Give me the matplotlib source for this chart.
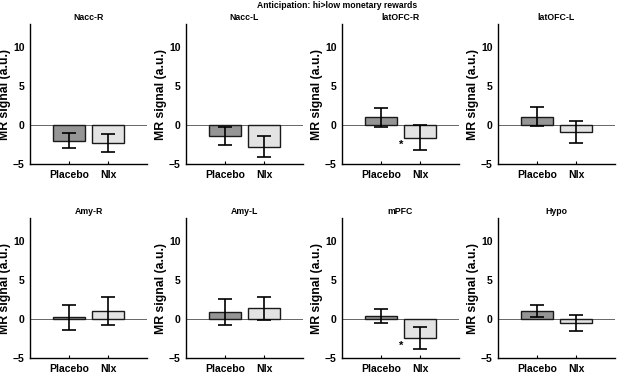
import numpy as np
import matplotlib.pyplot as plt

plt.rcParams['font.family'] = ['Liberation Sans', 'DejaVu Sans']

regions = ['Nacc-R', 'Nacc-L', 'latOFC-R', 'latOFC-L',
           'Amy-R', 'Amy-L', 'mPFC', 'Hypo']
groups = ['Placebo', 'Nlx']

# mean signal per region (placebo, nlx)
placebo_mean = [-2.0, -1.4, 1.0, 1.1, 0.25, 0.95, 0.4, 1.05]
nlx_mean = [-2.3, -2.8, -1.6, -0.85, 1.1, 1.4, -2.4, -0.5]
# error bar half-length
placebo_err = [0.95, 1.1, 1.2, 1.25, 1.6, 1.65, 0.9, 0.8]
nlx_err = [1.12, 1.35, 1.6, 1.4, 1.8, 1.5, 1.45, 1.0]
# significance marker next to Nlx bar
signif = [False, False, True, False, False, False, True, False]

fig = plt.figure(figsize=(6.17, 3.73), dpi=100)
W, H = 617, 373

lefts = [30, 186, 342, 498]
tops = [24, 218]
ax_w, ax_h = 117, 140

for i, name in enumerate(regions):
    row, col = divmod(i, 4)
    ax = fig.add_axes([lefts[col] / W, 1 - (tops[row] + ax_h) / H, ax_w / W, ax_h / H])
    x = np.array([1, 2])
    means = [placebo_mean[i], nlx_mean[i]]
    errs = [placebo_err[i], nlx_err[i]]
    ax.axhline(0, color='#666666', lw=0.7, zorder=1)
    ax.bar(x, means, width=0.8, color=['#959595', '#e3e3e3'],
           edgecolor='#1a1a1a', linewidth=1.0, zorder=2)
    ax.errorbar(x, means, yerr=errs, fmt='none', ecolor='black',
                elinewidth=1.2, capsize=5, capthick=1.2, zorder=3)
    if signif[i]:
        ax.text(1.52, means[1] - 0.35, '*', ha='center', va='top',
                fontsize=8, fontweight='bold')
    ax.set_xlim(0, 3)
    ax.set_ylim(-5, 13)
    ax.set_yticks([-5, 0, 5, 10])
    ax.set_xticks(x)
    ax.set_xticklabels(groups)
    ax.spines['top'].set_visible(False)
    ax.spines['right'].set_visible(False)
    ax.spines['left'].set_linewidth(1.0)
    ax.spines['bottom'].set_linewidth(1.0)
    ax.tick_params(axis='x', direction='in', length=2.5, width=0.8,
                   labelsize=7.5, pad=4)
    ax.tick_params(axis='y', direction='in', length=0, labelsize=7.5, pad=4)
    for lbl in ax.get_xticklabels() + ax.get_yticklabels():
        lbl.set_fontweight('bold')
    ax.set_ylabel('MR signal (a.u.)', fontsize=8.8, fontweight='bold', labelpad=1)
    ax.set_title(name, fontsize=6.3, fontweight='bold', pad=3)

fig.text(337 / W, 1 - 5 / H, 'Anticipation: hi>low monetary rewards',
         ha='center', va='center', fontsize=6.2, fontweight='bold')

fig.savefig('out.png', dpi=100)
